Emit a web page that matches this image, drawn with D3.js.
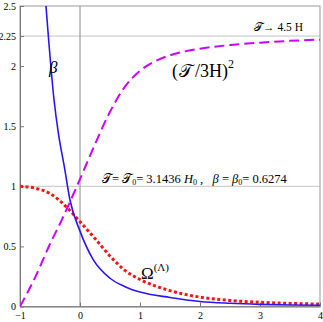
<!DOCTYPE html>
<html>
<head>
<meta charset="utf-8">
<script src="https://cdn.jsdelivr.net/npm/d3@7"></script>
<style>
  body { margin: 0; background: #fff; }
  svg text { font-family: "Liberation Serif", "DejaVu Serif", serif; white-space: pre; }
</style>
</head>
<body>
<div id="chart"></div>
<script>
// data
const betaX = [-0.62, -0.567, -0.433, -0.36, -0.26, -0.167, 0, 0.22, 0.5, 0.75, 1, 1.5, 2, 2.5, 3, 3.5, 4];
const betaY = [2.85, 2.5, 1.72, 1.44, 1.16, 0.886, 0.627, 0.39, 0.235, 0.165, 0.12, 0.075, 0.042, 0.027, 0.018, 0.013, 0.01];

const ratioX = [-1, -0.75, -0.5, -0.333, -0.167, 0, 0.25, 0.5, 0.75, 1, 1.25, 1.5, 2, 2.5, 3, 3.5, 4];
const ratioY = [0, 0.24, 0.52, 0.69, 0.87, 1.06, 1.35, 1.62, 1.83, 1.96, 2.04, 2.09, 2.145, 2.175, 2.195, 2.21, 2.22];

const omegaX = [-1, -0.75, -0.5, -0.25, 0, 0.25, 0.5, 0.75, 1, 1.5, 2, 2.5, 3, 3.5, 4];
const omegaY = [1.0, 0.985, 0.94, 0.84, 0.705, 0.565, 0.42, 0.30, 0.225, 0.132, 0.078, 0.05, 0.035, 0.026, 0.02];

const xTicks = [-1, 0, 1, 2, 3, 4];
const yTicks = [0, 0.5, 1, 1.5, 2, 2.25, 2.5];
const hLines = [1, 2.25];

const width = 323, height = 322;
const margin = { left: 20, top: 6, right: 3, bottom: 15.5 };

const svg = d3.select("#chart").append("svg")
  .attr("width", width).attr("height", height);

const x = d3.scaleLinear().domain([-1, 4]).range([margin.left, width - margin.right]);
const y = d3.scaleLinear().domain([0, 2.5]).range([height - margin.bottom, margin.top]);

svg.append("clipPath").attr("id", "plot")
  .append("rect")
  .attr("x", x(-1)).attr("y", y(2.5))
  .attr("width", x(4) - x(-1)).attr("height", y(0) - y(2.5));

// grid lines
svg.selectAll(".hline").data(hLines).join("line")
  .attr("x1", x(-1)).attr("x2", x(4))
  .attr("y1", d => y(d)).attr("y2", d => y(d))
  .attr("stroke", "#c4c4c4").attr("stroke-width", 1);

svg.append("line")
  .attr("x1", x(0)).attr("x2", x(0))
  .attr("y1", y(0)).attr("y2", y(2.5))
  .attr("stroke", "#8a8a8a").attr("stroke-width", 1);

// frame
svg.append("rect")
  .attr("x", x(-1)).attr("y", y(2.5))
  .attr("width", x(4) - x(-1)).attr("height", y(0) - y(2.5))
  .attr("fill", "none").attr("stroke", "#999").attr("stroke-width", 1);

// axes
const xAxis = d3.axisBottom(x).tickValues(xTicks).tickSize(-4).tickSizeOuter(0).tickPadding(5)
  .tickFormat(d3.format("d"));
const yAxis = d3.axisLeft(y).tickValues(yTicks).tickSize(-4).tickSizeOuter(0).tickPadding(4)
  .tickFormat(d3.format("~g"));

const gx = svg.append("g").attr("transform", `translate(0,${y(0)})`).call(xAxis);
const gy = svg.append("g").attr("transform", `translate(${x(-1)},0)`).call(yAxis);
[gx, gy].forEach(g => {
  g.select(".domain").attr("stroke", "#777");
  g.selectAll(".tick line").attr("stroke", "#777");
  g.selectAll(".tick text").attr("fill", "#000").attr("font-size", 10)
    .attr("font-family", "Liberation Serif, serif");
});

// curves
const line = d3.line().x(d => x(d[0])).y(d => y(d[1])).curve(d3.curveMonotoneX);
const plot = svg.append("g").attr("clip-path", "url(#plot)");

plot.append("path")
  .attr("d", line(omegaX.map((v, i) => [v, omegaY[i]])))
  .attr("fill", "none").attr("stroke", "#ff1010").attr("stroke-width", 3)
  .attr("stroke-dasharray", "3,2.5");

plot.append("path")
  .attr("d", line(ratioX.map((v, i) => [v, ratioY[i]])))
  .attr("fill", "none").attr("stroke", "#cc00ff").attr("stroke-width", 2)
  .attr("stroke-dasharray", "10,5");

plot.append("path")
  .attr("d", line(betaX.map((v, i) => [v, betaY[i]])))
  .attr("fill", "none").attr("stroke", "#2a14ff").attr("stroke-width", 1.6);

// labels
svg.append("text").attr("x", 49).attr("y", 73)
  .attr("font-size", 17).attr("font-style", "italic").text("β");

const t1 = svg.append("text").attr("x", 172).attr("y", 77).attr("font-size", 18);
t1.append("tspan").text("(");
t1.append("tspan").attr("dx", 1).text("𝒯");
t1.append("tspan").attr("dx", 2).text("/3H)");
t1.append("tspan").attr("dy", -9).attr("font-size", 12).text("2");

const t2 = svg.append("text").attr("x", 254).attr("y", 31).attr("font-size", 11.5);
t2.append("tspan").text("𝒯");
t2.append("tspan").text("→ 4.5 H");

const t3 = svg.append("text").attr("x", 102).attr("y", 182.5).attr("font-size", 12.5);
t3.append("tspan").text("𝒯= 𝒯");
t3.append("tspan").attr("font-size", 8).attr("dy", 2).text("0");
t3.append("tspan").attr("dy", -2).text("= 3.1436 ");
t3.append("tspan").attr("font-style", "italic").text("H");
t3.append("tspan").attr("font-size", 8).attr("dy", 2).text("0");
t3.append("tspan").attr("dy", -2).text(" ,   ");
t3.append("tspan").attr("font-style", "italic").text("β");
t3.append("tspan").text(" = ");
t3.append("tspan").attr("font-style", "italic").text("β");
t3.append("tspan").attr("font-size", 8).attr("dy", 2).text("0");
t3.append("tspan").attr("dy", -2).text("= 0.6274");

const t4 = svg.append("text").attr("x", 141).attr("y", 279).attr("font-size", 17);
t4.append("tspan").text("Ω");
t4.append("tspan").attr("dy", -8).attr("font-size", 11).text("(Λ)");
</script>
</body>
</html>
